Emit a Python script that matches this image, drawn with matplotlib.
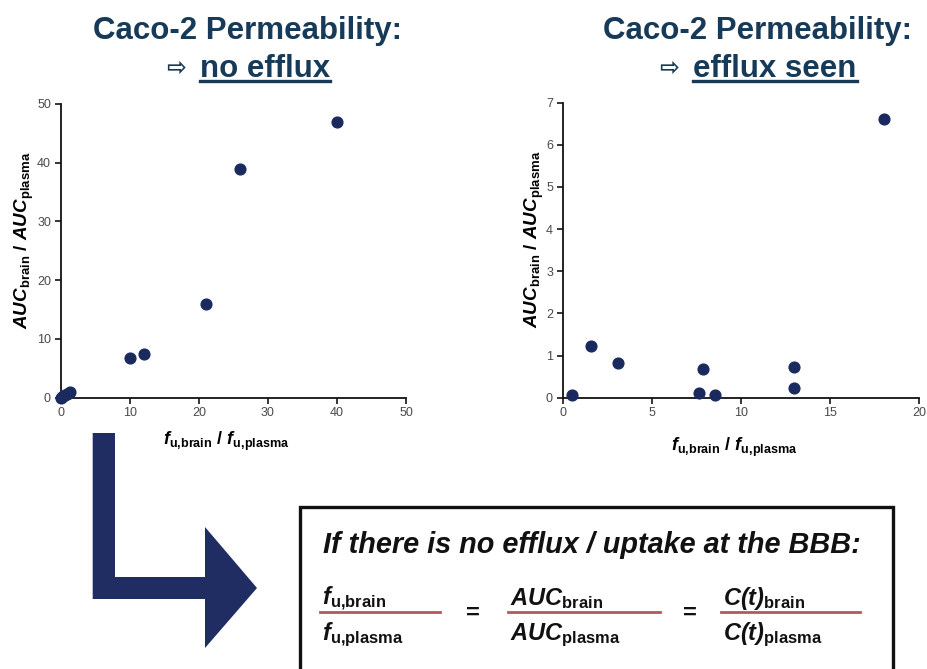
import numpy as np
import matplotlib
matplotlib.use('Agg')
import matplotlib.pyplot as plt
from matplotlib.patches import Polygon, Rectangle
from matplotlib.lines import Line2D

plt.rcParams['font.family'] = ['Liberation Sans', 'DejaVu Sans']
plt.rcParams['mathtext.fontset'] = 'custom'
plt.rcParams['mathtext.rm'] = 'Liberation Sans'
plt.rcParams['mathtext.it'] = 'Liberation Sans:italic'
plt.rcParams['mathtext.bf'] = 'Liberation Sans:bold'
plt.rcParams['mathtext.bfit'] = 'Liberation Sans:italic:bold'

# left panel: no efflux
x_left = [0.0, 0.2, 0.4, 0.6, 0.9, 1.2, 1.4, 10, 12, 21, 26, 40]
y_left = [0.0, 0.1, 0.3, 0.4, 0.6, 0.8, 0.9, 6.8, 7.4, 16, 39, 47]
# right panel: efflux seen
x_right = [0.5, 1.6, 3.1, 7.65, 7.85, 8.55, 13, 13, 18]
y_right = [0.07, 1.22, 0.82, 0.1, 0.68, 0.07, 0.73, 0.22, 6.62]

titles = ['no efflux', 'efflux seen']
left_ticks = np.arange(0, 51, 10)
right_xticks = np.arange(0, 21, 5)
right_yticks = np.arange(0, 8, 1)

W, H = 928, 669
navy = '#1b2a5e'
title_col = '#163a58'
frac_col = '#b5585b'

fig = plt.figure(figsize=(W / 100, H / 100), dpi=100)

def fx(px):
    return px / W

def fy(py):
    return 1 - py / H

ax1 = fig.add_axes([fx(60.7), fy(397.7), fx(406 - 60.7), (397.7 - 104) / H])
ax2 = fig.add_axes([fx(562.7), fy(397.7), fx(919.3 - 562.7), (397.7 - 102.7) / H])

ylab = r'$\mathbfit{AUC}_{\mathbf{brain}}\mathbf{\ /\ }\mathbfit{AUC}_{\mathbf{plasma}}$'
xlab = r'$\mathbfit{f}_{\mathbf{u{,}brain}}\mathbf{\ /\ }\mathbfit{f}_{\mathbf{u{,}plasma}}$'

for ax, xs, ys, ylx, xly in [(ax1, x_left, y_left, -0.071, -0.108),
                             (ax2, x_right, y_right, -0.047, -0.130)]:
    ax.scatter(xs, ys, s=60, color=navy, zorder=3, clip_on=False)
    for s in ['top', 'right']:
        ax.spines[s].set_visible(False)
    for s in ['left', 'bottom']:
        ax.spines[s].set_linewidth(1.3)
        ax.spines[s].set_color('#111111')
    ax.tick_params(direction='out', length=4, width=1.1, labelsize=9,
                   labelcolor='#4a4a4a', pad=3)
    ax.set_ylabel(ylab, fontsize=13.5)
    ax.yaxis.set_label_coords(ylx, 0.537)
    ax.set_xlabel(xlab, fontsize=13)
    ax.xaxis.set_label_coords(0.48, xly)

ax1.set_xlim(0, 50)
ax1.set_ylim(0, 50)
ax1.set_xticks(left_ticks)
ax1.set_yticks(left_ticks)
ax2.set_xlim(0, 20)
ax2.set_ylim(0, 7)
ax2.set_xticks(right_xticks)
ax2.set_yticks(right_yticks)

# titles
renderer = fig.canvas.get_renderer()
for cx, sub in [(248, titles[0]), (758, titles[1])]:
    fig.text(fx(cx), fy(39), 'Caco-2 Permeability:', ha='center', va='baseline',
             fontsize=22.5, fontweight='bold', color=title_col)
    arr = fig.text(0, fy(77), '\u21e8', ha='left', va='baseline', fontsize=17,
                   fontweight='bold', color=title_col, family=['DejaVu Sans'])
    word = fig.text(0, fy(77), sub, ha='left', va='baseline', fontsize=22.5,
                    fontweight='bold', color=title_col)
    aw = arr.get_window_extent(renderer).width
    ww = word.get_window_extent(renderer).width
    gap = 14
    x0 = cx - (aw + gap + ww) / 2
    arr.set_position((fx(x0), fy(75)))
    word.set_position((fx(x0 + aw + gap), fy(77)))
    fig.add_artist(Line2D([fx(x0 + aw + gap), fx(x0 + aw + gap + ww)], [fy(81), fy(81)],
                          color=title_col, lw=2.4))

# bent arrow
arrow_pts = [(92.7, 433), (115, 433), (115, 577), (205, 577), (205, 527),
             (257, 588), (205, 648), (205, 599), (92.7, 599)]
fig.add_artist(Polygon([(fx(a), fy(b)) for a, b in arrow_pts], closed=True,
                       facecolor='#1f2d63', edgecolor='none'))

# box
fig.add_artist(Rectangle((fx(300), fy(700)), fx(893 - 300), (700 - 507) / H,
                         facecolor='none', edgecolor='#111111', lw=2.4))
fig.text(fx(323), fy(553), 'If there is no efflux / uptake at the BBB:', ha='left',
         va='baseline', fontsize=20.8, fontweight='bold', style='italic', color='#111111')

fracs = [
    (322, 440, r'$\mathbfit{f}_{\mathbf{u{,}brain}}$', r'$\mathbfit{f}_{\mathbf{u{,}plasma}}$'),
    (510, 660, r'$\mathbfit{AUC}_{\mathbf{brain}}$', r'$\mathbfit{AUC}_{\mathbf{plasma}}$'),
    (723, 860, r'$\mathbfit{C(t)}_{\mathbf{brain}}$', r'$\mathbfit{C(t)}_{\mathbf{plasma}}$'),
]
for i, (xa, xb, num, den) in enumerate(fracs):
    fig.text(fx(xa), fy(605), num, ha='left', va='baseline', fontsize=17, color='#111111')
    fig.text(fx(xa), fy(640), den, ha='left', va='baseline', fontsize=17, color='#111111')
    fig.add_artist(Line2D([fx(xa - 2), fx(xb)], [fy(612), fy(612)], color=frac_col, lw=2))
for ex in [473, 690]:
    fig.text(fx(ex), fy(613), '=', ha='center', va='center', fontsize=17,
             fontweight='bold', color='#111111')

fig.savefig('out.png', dpi=100)
